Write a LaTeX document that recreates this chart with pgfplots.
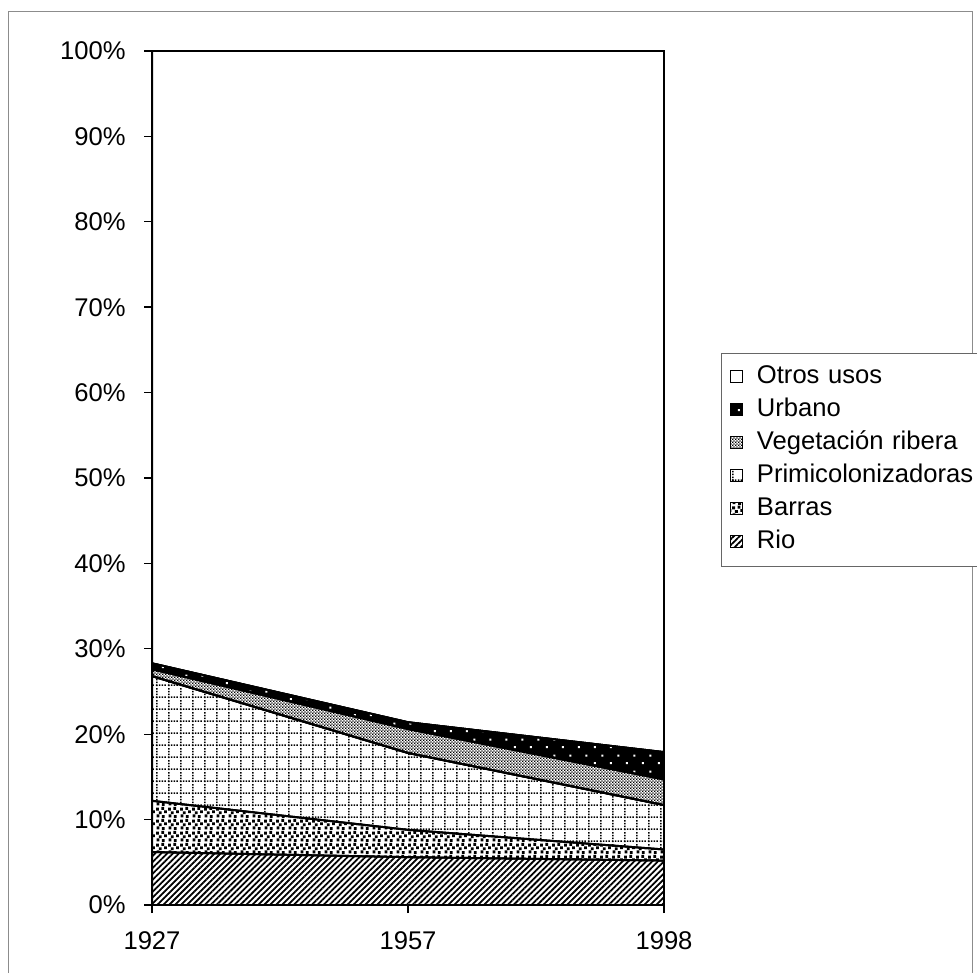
\documentclass[border=0pt]{standalone}
\usepackage{fontspec}
\setmainfont{Liberation Sans}
\usepackage{pgfplots}
\pgfplotsset{compat=1.18}
\usetikzlibrary{patterns,patterns.meta}

% dotted grid (Primicolonizadoras)
\tikzdeclarepattern{
  name=primigrid, type=uncolored,
  bounding box={(0pt,0pt) and (6pt,6pt)},
  tile size={(6pt,6pt)},
  code={
    \draw[line width=0.85pt, dash pattern=on 0.8pt off 0.7pt] (0pt,0.45pt) -- (6pt,0.45pt);
    \draw[line width=0.85pt, dash pattern=on 0.8pt off 0.7pt] (0.45pt,0pt) -- (0.45pt,6pt);
  }
}
% scattered dots (Barras)
\tikzdeclarepattern{
  name=barrasdots, type=uncolored,
  bounding box={(0pt,0pt) and (6pt,6pt)},
  tile size={(6pt,6pt)},
  code={
    \fill (0.3pt,0.4pt) rectangle +(1.5pt,1.5pt);
    \fill (3.2pt,0.1pt) rectangle +(1.5pt,1.5pt);
    \fill (1.5pt,2.1pt) rectangle +(1.5pt,1.5pt);
    \fill (4.4pt,2.6pt) rectangle +(1.5pt,1.5pt);
    \fill (0.1pt,4.0pt) rectangle +(1.5pt,1.5pt);
    \fill (2.9pt,4.4pt) rectangle +(1.5pt,1.5pt);
  }
}
% white dots on black (Urbano)
\tikzdeclarepattern{
  name=sparsedots, type=uncolored,
  bounding box={(0pt,0pt) and (8pt,8pt)},
  tile size={(8pt,8pt)},
  code={
    \fill (1pt,1pt) rectangle +(1pt,1pt);
    \fill (5pt,5pt) rectangle +(1pt,1pt);
  }
}
% fine grey mesh (Vegetacion ribera)
\tikzdeclarepattern{
  name=vegmesh, type=uncolored,
  bounding box={(0pt,0pt) and (1.6pt,1.6pt)},
  tile size={(1.6pt,1.6pt)},
  code={
    \fill (0pt,0pt) rectangle (0.8pt,0.8pt);
    \fill (0.8pt,0.8pt) rectangle (1.6pt,1.6pt);
  }
}

\begin{document}
\begin{tikzpicture}[x=0.5pt,y=0.5pt]
\useasboundingbox (0,0) rectangle (977,973);
\draw[black!45, line width=0.5pt] (8,0) -- (8,961) -- (972,961) -- (972,0);
\begin{axis}[
  at={(76pt,34pt)}, anchor=south west,
  scale only axis, width=256pt, height=427pt,
  xmin=0, xmax=2, ymin=0, ymax=100,
  xtick={0,1,2}, xticklabels={1927,1957,1998},
  ytick={0,10,...,100},
  yticklabels={0\%,10\%,20\%,30\%,40\%,50\%,60\%,70\%,80\%,90\%,100\%},
  tick pos=left, tick align=outside, major tick length=4pt,
  tick style={line width=0.7pt, black},
  tick label style={font=\fontsize{12.8}{15}\selectfont},
  yticklabel style={inner sep=0pt, xshift=-9pt},
  xticklabel style={inner sep=0pt, yshift=-9pt},
  axis line style={line width=0.8pt},
  axis on top,
  stack plots=y,
  every axis plot/.append style={draw=black, line width=1pt},
  legend style={
    at={(1.111,0.6464)}, anchor=north west,
    draw=black!60, line width=0.5pt,
    font=\fontsize{12.8}{15}\selectfont,
    inner xsep=4.5pt, inner ysep=6pt,
    row sep=4.7pt, column sep=7pt,
    nodes={inner sep=0pt, text height=9.2pt, text depth=2.6pt},
    /tikz/every even column/.append style={text width=112pt},
  },
  legend cell align=left,
  reverse legend,
  legend image code/.code={\draw[#1, line width=0.5pt] (0pt,-2.4pt) rectangle (5.8pt,3.4pt);},
]
\addplot[pattern={Lines[angle=45,distance=2.1pt,line width=0.9pt]}] coordinates {(0,6.2) (1,5.6) (2,5.2)} \closedcycle;
\addplot[pattern=barrasdots] coordinates {(0,6.0) (1,3.2) (2,1.3)} \closedcycle;
\addplot[pattern=primigrid] coordinates {(0,14.6) (1,9.0) (2,5.2)} \closedcycle;
\addplot[fill=white, postaction={pattern=vegmesh}] coordinates {(0,0.8) (1,2.8) (2,3.0)} \closedcycle;
\addplot[fill=black, postaction={pattern=sparsedots, pattern color=white}] coordinates {(0,0.7) (1,0.8) (2,3.2)} \closedcycle;
\addplot[fill=white] coordinates {(0,71.7) (1,78.6) (2,82.1)} \closedcycle;
\legend{Rio,Barras,Primicolonizadoras,Vegetación ribera,Urbano,Otros usos}
\end{axis}
\end{tikzpicture}
\end{document}
